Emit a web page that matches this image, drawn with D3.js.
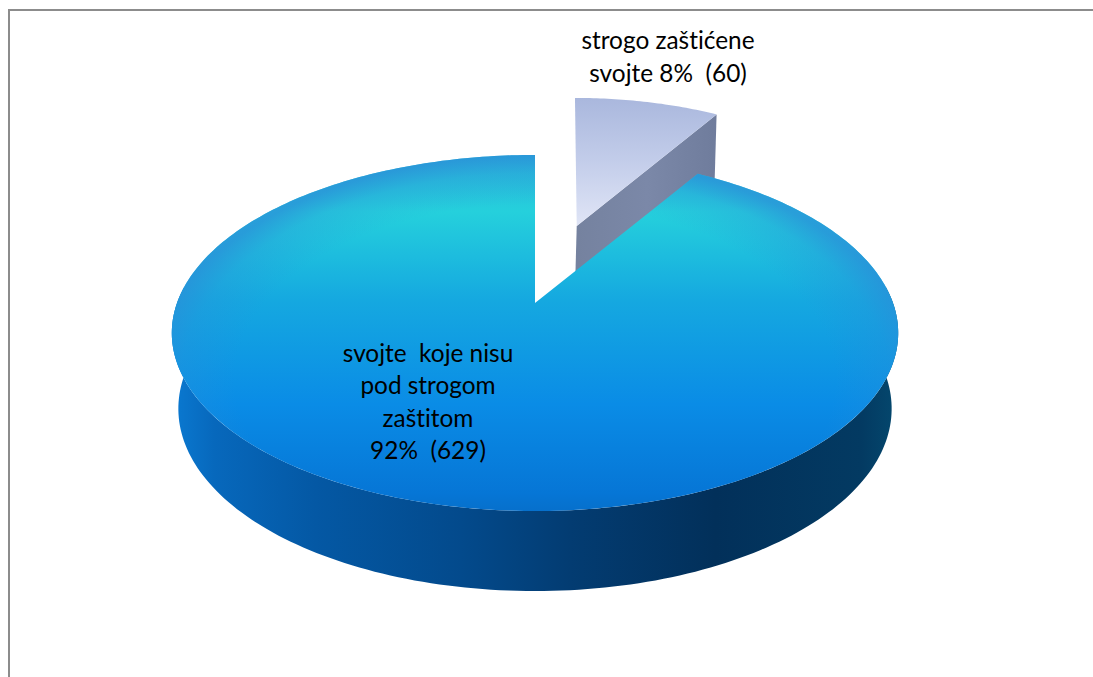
<!DOCTYPE html>
<html>
<head>
<meta charset="utf-8">
<script src="https://cdn.jsdelivr.net/npm/d3@7"></script>
<style>
  html, body { margin: 0; padding: 0; background: #fff; }
  svg { display: block; }
  text { font-family: Lato, "Open Sans", sans-serif; font-size: 24.4px; fill: #000; text-anchor: middle; font-variant-ligatures: none; }
</style>
</head>
<body>
<svg id="chart" width="1093" height="677"></svg>
<script>
// Protected taxa counts
const categories = ["strogo zaštićene svojte", "svojte koje nisu pod strogom zaštitom"];
const counts = [60, 629];
const labelLines = [
  ["strogo zaštićene", "svojte 8%  (60)"],
  ["svojte  koje nisu", "pod strogom", "zaštitom", "92%  (629)"]
];

const W = 1093, H = 677;
const svg = d3.select("#chart");
const defs = svg.append("defs");

// Perspective disc: unit circle on the table plane is projected to the screen.
const tilt = 0.1685;
const sx = d3.scaleLinear().domain([-1, 1]).range([535 - 358, 535 + 358]);
const sy = d3.scaleLinear().domain([-1, 1]).range([303 - 173, 303 + 173]);
const project = (X, Y) => {
  const w = 1 - tilt * Y;
  return [sx(X / w), sy(Y / w)];
};
// Rim of the lower plane: slightly narrower, thickness growing toward the viewer.
const lower = (X, Y) => {
  const [x, y] = project(X, Y);
  return [sx(0) + (x - sx(0)) * 0.982, y + 74.8 + 5.2 * Y];
};

const arcs = d3.pie().sort(null).value(d => d)(counts);
const wedge = arcs[0], main = arcs[1];

const mid = (wedge.startAngle + wedge.endAngle) / 2;
const explode = 0.5;
const ox = explode * Math.sin(mid), oy = -explode * Math.cos(mid);

const onCircle = (a, dx = 0, dy = 0) => [Math.sin(a) + dx, -Math.cos(a) + dy];
const steps = (a0, a1, n = 160) => d3.range(n + 1).map(i => a0 + (a1 - a0) * i / n);
const path = d3.line();

function grad(id, x1, y1, x2, y2, stops) {
  const g = defs.append("linearGradient").attr("id", id)
    .attr("gradientUnits", "userSpaceOnUse")
    .attr("x1", x1).attr("y1", y1).attr("x2", x2).attr("y2", y2);
  stops.forEach(([o, c]) => g.append("stop").attr("offset", o).attr("stop-color", c));
}

grad("topFace", 0, 155, 0, 511, [
  [0, "#2ab4da"], [0.16, "#25d0dc"], [0.41, "#15a8e0"],
  [0.7, "#0a8ce6"], [0.95, "#0676d6"], [1, "#0670cc"]
]);
grad("sideFace", 171, 0, 897, 0, [
  [0, "#0a7ad2"], [0.06, "#0768bc"], [0.2, "#0458a4"], [0.4, "#034a8c"],
  [0.55, "#033c72"], [0.75, "#02305a"], [0.95, "#033a62"], [1, "#04486e"]
]);
grad("wedgeTop", 0, 97, 0, 226, [[0, "#a9b7dd"], [0.5, "#c3cdea"], [1, "#e0e5f6"]]);
grad("wedgeSide", 577, 0, 718, 0, [[0, "#75829f"], [0.5, "#7b88a8"], [1, "#6f7c9c"]]);

// Darker band hugging only the far rim of the top face
const rim = defs.append("radialGradient").attr("id", "rimShade")
  .attr("gradientUnits", "userSpaceOnUse")
  .attr("cx", 0).attr("cy", 0).attr("r", 1)
  .attr("gradientTransform", "translate(535,380) scale(385,225)");
[[0.78, 0], [0.92, 0.3], [1, 0.75]].forEach(([o, a]) =>
  rim.append("stop").attr("offset", o).attr("stop-color", "#2a8ed8").attr("stop-opacity", a));

// Detached slice, narrowed and sheared slightly about its apex on screen.
const wedgeApex = project(ox, oy);
const wedgeX = ([x, y]) => [
  wedgeApex[0] - 3 + (x - wedgeApex[0]) * 0.93 + (wedgeApex[1] - y) * 0.03,
  y
];
const wedgeEdge = [[ox, oy], onCircle(wedge.endAngle, ox, oy)];
const wallTop = [0, 1].map(i => wedgeX(project(...wedgeEdge[i])));
const wallBottom = [1, 0].map(i => {
  const [X, Y] = wedgeEdge[i];
  const top = wedgeX(project(X, Y));
  return [top[0] - 2, lower(X, Y)[1]];
});
svg.append("path").attr("d", path([...wallTop, ...wallBottom]) + "Z").attr("fill", "url(#wedgeSide)");

const wedgeOutline = [
  wedgeX(project(ox, oy)),
  ...steps(wedge.startAngle, wedge.endAngle, 40).map(a => wedgeX(project(...onCircle(a, ox, oy))))
];
svg.append("path").attr("d", path(wedgeOutline) + "Z").attr("fill", "url(#wedgeTop)");

// Large slice: outer wall along the near half, then its top.
const frontAngles = steps(Math.PI * 0.47, Math.PI * 1.53);
const wallOut = frontAngles.map(a => project(...onCircle(a)));
const wallIn = frontAngles.slice().reverse().map(a => lower(...onCircle(a)));
svg.append("path").attr("d", path([...wallOut, ...wallIn]) + "Z").attr("fill", "url(#sideFace)");

const mainOutline = [
  project(0, 0),
  ...steps(main.startAngle, main.endAngle, 300).map(a => project(...onCircle(a)))
];
const mainD = path(mainOutline) + "Z";
svg.append("path").attr("d", mainD).attr("fill", "url(#topFace)");
svg.append("path").attr("d", mainD).attr("fill", "url(#rimShade)");

// Chart frame: the left and top edges, running off the page.
svg.append("path").attr("d", path([[9, H], [9, 10], [W, 10]]))
  .attr("fill", "none").attr("stroke", "#8c8c8c").attr("stroke-width", 2);

// Data labels
const labelAnchors = [{ x: 668, y: 49, lh: 33 }, { x: 428, y: 362, lh: 32.3 }];
labelLines.forEach((lines, i) => {
  const t = svg.append("text").attr("aria-label", categories[i]);
  lines.forEach((ln, j) => {
    t.append("tspan").attr("x", labelAnchors[i].x)
      .attr("y", labelAnchors[i].y + j * labelAnchors[i].lh)
      .style("white-space", "pre").text(ln);
  });
});
</script>
</body>
</html>
